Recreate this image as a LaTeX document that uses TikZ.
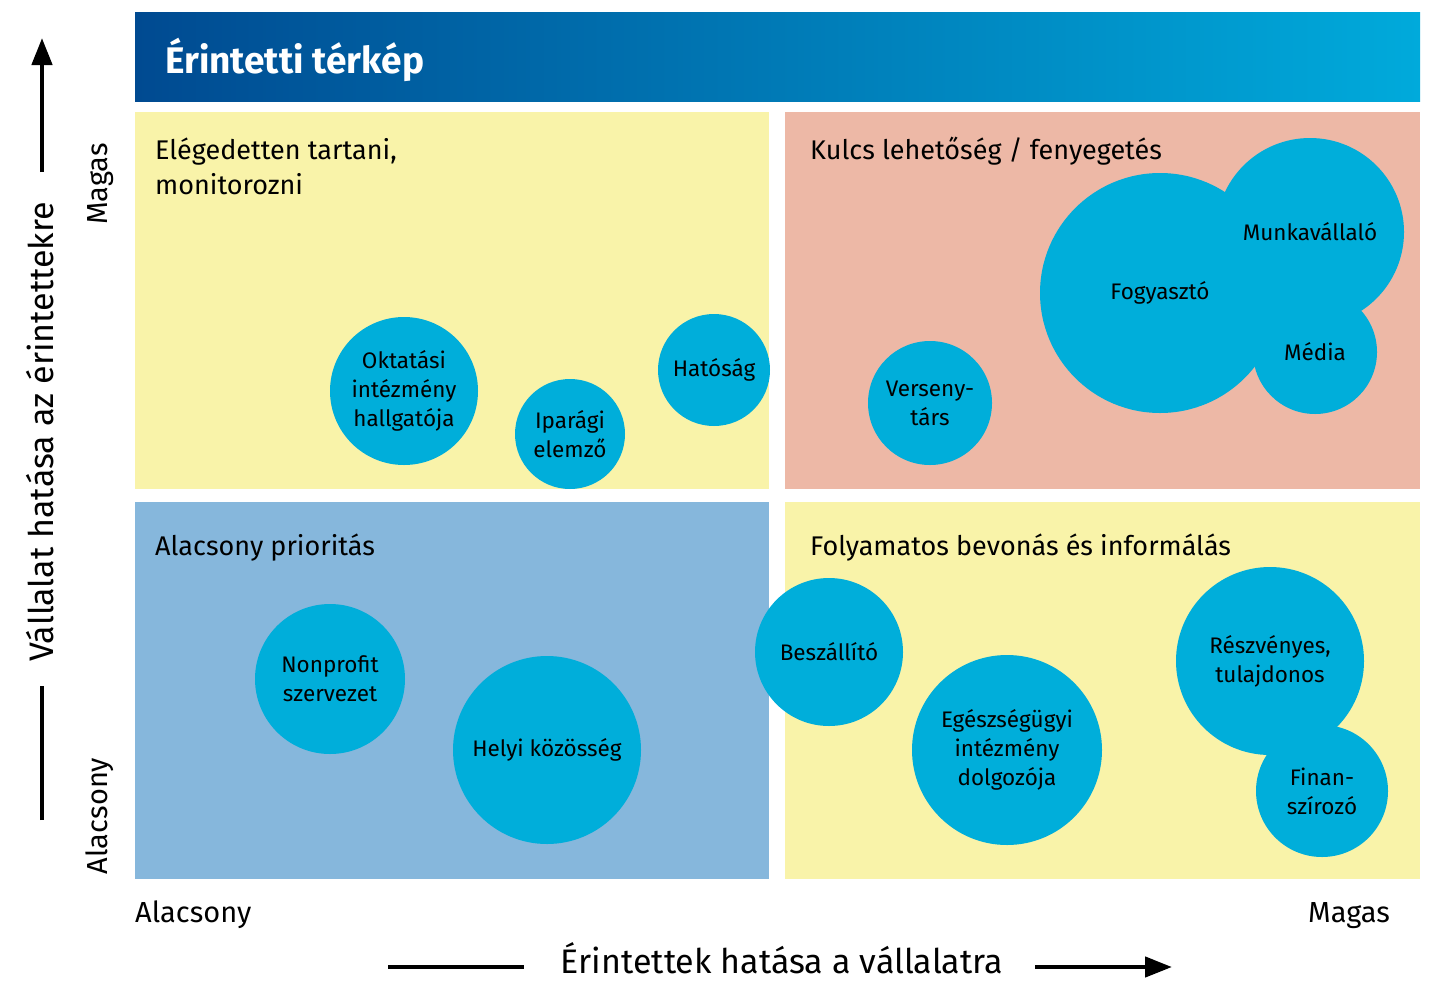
\documentclass[tikz,border=0pt]{standalone}
\usepackage{fontspec}
\setmainfont{Fira Sans}
\usetikzlibrary{arrows.meta}

\begin{document}
\begin{tikzpicture}[x=1pt,y=-1pt,
	bubble/.style={circle,fill=bubbleblue,inner sep=0pt,align=center,font=\fontsize{22.5}{29}\selectfont},
	quadtitle/.style={anchor=base west,align=left,inner sep=0pt,font=\fontsize{27}{35}\selectfont},
	tick/.style={anchor=base,inner sep=0pt,font=\fontsize{29}{32}\selectfont},
	axislabel/.style={anchor=base,inner sep=0pt,font=\fontsize{34}{38}\selectfont},
	axisline/.style={line width=4.5pt},
	axisarrow/.style={line width=4.5pt,-{Triangle[width=20pt,length=27pt]}}]
	\definecolor{titledark}{RGB}{0,74,145}
	\definecolor{titlelight}{RGB}{0,170,219}
	\definecolor{softyellow}{RGB}{249,243,169}
	\definecolor{salmon}{RGB}{237,184,166}
	\definecolor{lowblue}{RGB}{134,183,220}
	\definecolor{bubbleblue}{RGB}{0,174,218}

	\useasboundingbox (0,0) rectangle (1437,980);

	% title bar
	\shade[left color=titledark,right color=titlelight] (135,12) rectangle (1420,101);
	\node[anchor=base west,inner sep=0pt,white,font=\bfseries\fontsize{37}{40}\selectfont] (title) at (165,73) {Érintetti térkép};

	% quadrants
	\fill[softyellow] (135,112) rectangle (769,489);
	\fill[salmon] (785,112) rectangle (1420,489);
	\fill[lowblue] (135,502) rectangle (769,879);
	\fill[softyellow] (785,502) rectangle (1420,879);

	\node[quadtitle] (qtl) at (155,194) {Elégedetten tartani,\\monitorozni};
	\node[quadtitle] (qtr) at (810,159) {Kulcs lehetőség / fenyegetés};
	\node[quadtitle] (qbl) at (155,555) {Alacsony prioritás};
	\node[quadtitle] (qbr) at (810,555) {Folyamatos bevonás és informálás};

	% stakeholders
	\node[bubble,minimum size=148pt] (oktatas) at (404,391) {Oktatási\\intézmény\\hallgatója};
	\node[bubble,minimum size=110pt] (elemzo) at (570,434) {Iparági\\elemző};
	\node[bubble,minimum size=112pt] (hatosag) at (714,370) {Hatóság};
	\node[bubble,minimum size=124pt] (versenytars) at (930,403) {Verseny-\\társ};
	\node[bubble,minimum size=240pt] (fogyaszto) at (1160,293) {Fogyasztó};
	\node[bubble,minimum size=188pt] (munkavallalo) at (1310,232) {Munkavállaló};
	\node[bubble,minimum size=124pt] (media) at (1315,352) {Média};
	\node[bubble,minimum size=150pt] (nonprofit) at (330,679) {Nonprofit\\szervezet};
	\node[bubble,minimum size=188pt] (kozosseg) at (547,750) {Helyi közösség};
	\node[bubble,minimum size=148pt] (beszallito) at (829,652) {Beszállító};
	\node[bubble,minimum size=190pt] (egeszseg) at (1007,750) {Egészségügyi\\intézmény\\dolgozója};
	\node[bubble,minimum size=188pt] (reszvenyes) at (1270,661) {Részvényes,\\tulajdonos};
	\node[bubble,minimum size=132pt] (finanszirozo) at (1322,791) {Finan-\\szírozó};

	% axes
	\node[tick,rotate=90] (ymagas) at (107,184) {Magas};
	\node[tick,rotate=90] (yalacsony) at (107,816) {Alacsony};
	\node[tick,anchor=base west] (xalacsony) at (135,922) {Alacsony};
	\node[tick,anchor=base east] (xmagas) at (1390,922) {Magas};

	\node[axislabel,rotate=90] (ylabel) at (53,432) {Vállalat hatása az érintettekre};
	\node[axislabel] (xlabel) at (782,973) {Érintettek hatása a vállalatra};

	\coordinate (ybot) at (42,820);
	\coordinate (ymid) at (42,686);
	\coordinate (ystart) at (42,172);
	\coordinate (ytop) at (42,38);
	\coordinate (xleft) at (388,967);
	\coordinate (xmid) at (524,967);
	\coordinate (xstart) at (1035,967);
	\coordinate (xright) at (1172,967);

	\draw[axisline] (ybot) -- (ymid);
	\draw[axisarrow] (ystart) -- (ytop);
	\draw[axisline] (xleft) -- (xmid);
	\draw[axisarrow] (xstart) -- (xright);
\end{tikzpicture}
\end{document}
